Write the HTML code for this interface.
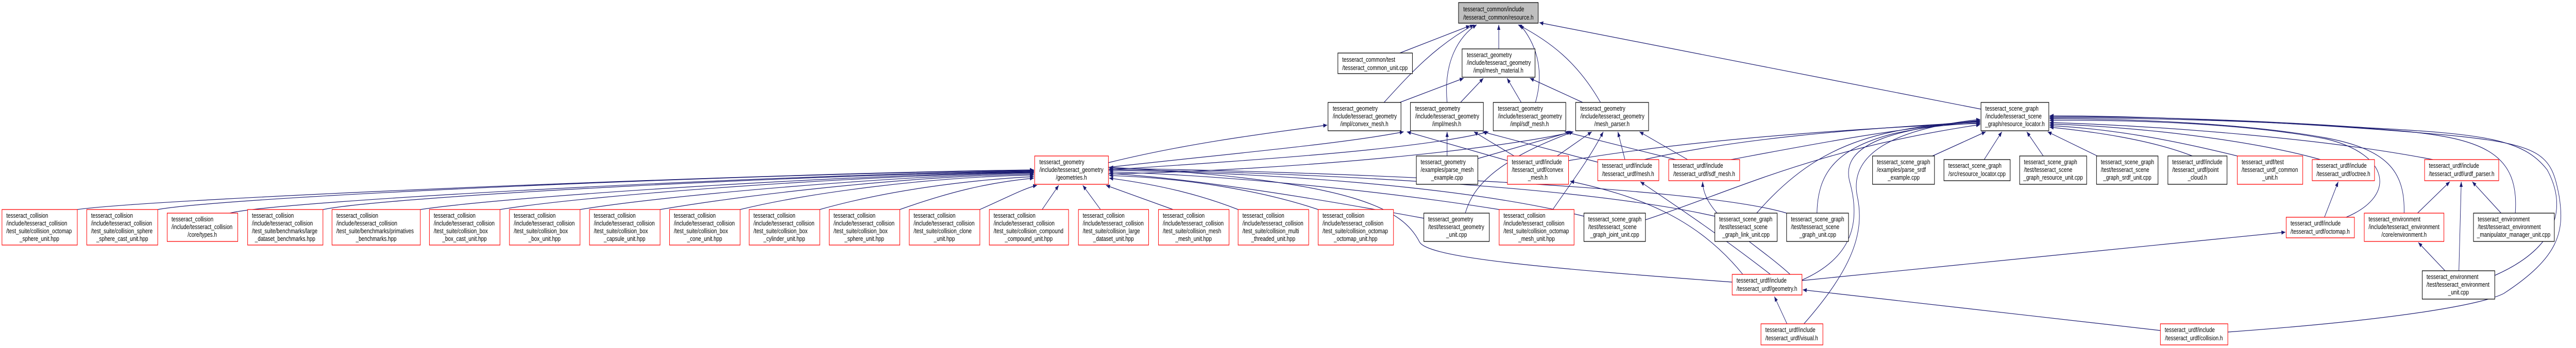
<!DOCTYPE html>
<html><head><meta charset="utf-8"><style>
html,body{margin:0;padding:0;background:#fff;width:100%;height:100%;overflow:hidden;}
svg{display:block;width:100vw;height:100vh;}
text{font-family:"Liberation Sans",Arial,sans-serif;font-size:13px;fill:#000;}
.e{fill:none;stroke:#191970;stroke-width:1.2;marker-end:url(#ah);}
.r{fill:#fff;stroke:#ff0000;stroke-width:1.3;}
.k{fill:#fff;stroke:#000;stroke-width:1.3;}
.g{fill:#bfbfbf;stroke:#000;stroke-width:1.3;}
.m{text-anchor:middle;}
</style></head><body>
<svg viewBox="0 0 6533 676" preserveAspectRatio="none" xmlns="http://www.w3.org/2000/svg" overflow="hidden">
<defs><marker id="ah" markerUnits="userSpaceOnUse" markerWidth="11" markerHeight="8" refX="10" refY="4" orient="auto"><path d="M0,0 L10,4 L0,8 z" fill="#191970"/></marker></defs>
<rect width="6533" height="676" fill="#fff"/>
<!-- edges -->
<path class="e" d="M3550,103 L3728,50"/>
<path class="e" d="M3510,199 C3580,140 3640,90 3738,48"/>
<path class="e" d="M3670,199 C3660,120 3700,70 3745,48"/>
<path class="e" d="M3801,95 L3801,48"/>
<path class="e" d="M3894,199 C3920,130 3890,80 3855,48"/>
<path class="e" d="M4059,199 C4000,120 3930,80 3850,48"/>
<path class="e" d="M5024,212 L3904,44"/>
<path class="e" d="M3550,199 L3712,152"/>
<path class="e" d="M3704,199 L3762,152"/>
<path class="e" d="M3858,199 L3822,152"/>
<path class="e" d="M4014,199 L3880,152"/>
<path class="e" d="M2811,316 C3000,280 3200,260 3366,243"/>
<path class="e" d="M2811,325 C3100,300 3400,280 3560,256"/>
<path class="e" d="M2811,330 C3200,310 3600,290 3775,256"/>
<path class="e" d="M2811,338 C3300,330 3800,290 3990,256"/>
<path class="e" d="M3823,312 L3568,256"/>
<path class="e" d="M3949,303 L4037,256"/>
<path class="e" d="M3670,303 L3670,256"/>
<path class="e" d="M3748,308 L3985,256"/>
<path class="e" d="M4052,315 L3760,256"/>
<path class="e" d="M4121,310 L4103,256"/>
<path class="e" d="M4250,310 L3968,256"/>
<path class="e" d="M4280,310 L4158,256"/>
<path class="e" d="M3840,303 L3738,256"/>
<path class="e" d="M3716,414 C3730,380 3760,320 3990,256"/>
<path class="e" d="M3938,407 C3980,360 4030,310 4066,256"/>
<path class="e" d="M196,407 C400,385 2000,335 2622,330"/>
<path class="e" d="M400,407 C600,380 2000,335 2622,331"/>
<path class="e" d="M583,414 C700,390 2000,338 2622,332"/>
<path class="e" d="M819,407 C1000,380 2100,338 2622,333"/>
<path class="e" d="M1066,407 C1300,380 2200,338 2622,334"/>
<path class="e" d="M1268,407 C1500,378 2200,340 2622,335"/>
<path class="e" d="M1471,407 C1700,378 2300,340 2622,336"/>
<path class="e" d="M1674,407 C1900,378 2300,342 2622,338"/>
<path class="e" d="M1877,407 C2050,375 2350,344 2622,340"/>
<path class="e" d="M2079,407 C2250,370 2450,350 2622,343"/>
<path class="e" d="M2282,407 C2400,375 2500,355 2622,346"/>
<path class="e" d="M2485,407 C2550,385 2600,365 2630,360"/>
<path class="e" d="M2643,407 L2685,360"/>
<path class="e" d="M2791,407 L2746,360"/>
<path class="e" d="M2975,407 L2805,360"/>
<path class="e" d="M3140,407 C3050,380 2950,360 2813,346"/>
<path class="e" d="M3343,407 C3200,370 3000,345 2813,341"/>
<path class="e" d="M3611,424 C3300,380 3000,345 2813,337"/>
<path class="e" d="M3802,407 C3500,370 3100,340 2813,334"/>
<path class="e" d="M4017,420 C3700,360 3200,335 2813,331"/>
<path class="e" d="M4349,420 C4000,360 3300,335 2813,329"/>
<path class="e" d="M4531,414 C4300,360 3300,332 2813,327"/>
<path class="e" d="M4393,548 C3900,520 3620,500 3600,470 C3560,410 3450,350 2813,325"/>
<path class="e" d="M3978,312 C4300,270 4700,250 5022,239"/>
<path class="e" d="M4170,310 C4400,270 4700,250 5022,237"/>
<path class="e" d="M4390,310 C4600,280 4800,250 5022,235"/>
<path class="e" d="M4901,303 L5036,256"/>
<path class="e" d="M5032,310 L5077,256"/>
<path class="e" d="M5182,303 L5140,256"/>
<path class="e" d="M5319,303 L5193,256"/>
<path class="e" d="M5560,303 C5450,270 5300,255 5198,247"/>
<path class="e" d="M5674,303 C5500,270 5350,250 5198,244"/>
<path class="e" d="M5885,310 C5700,270 5400,245 5198,241"/>
<path class="e" d="M6170,310 C5900,270 5500,245 5198,238"/>
<path class="e" d="M5950,422 C6080,380 6060,300 5900,270 C5700,240 5400,232 5198,234"/>
<path class="e" d="M6097,414 C6100,330 6050,290 5900,268 C5700,240 5400,230 5198,231"/>
<path class="e" d="M6379,414 C6390,300 6300,270 6100,255 C5800,235 5400,228 5198,229"/>
<path class="e" d="M6327,535 C6490,480 6510,400 6460,330 C6400,270 6300,260 6000,248 C5700,232 5400,226 5198,227"/>
<path class="e" d="M5650,645 C6100,620 6300,590 6350,570 C6490,500 6505,450 6490,380 C6470,300 6450,280 6200,262 C5800,235 5400,225 5198,225"/>
<path class="e" d="M4608,414 C4610,340 4650,290 4800,260 C4900,243 4980,240 5022,240"/>
<path class="e" d="M4455,414 C4550,330 4650,280 4800,256 C4900,240 5000,236 5022,237"/>
<path class="e" d="M4173,427 C4400,370 4600,290 5022,242"/>
<path class="e" d="M4570,544 C4700,500 4720,430 4690,350 C4670,280 4800,250 5022,234"/>
<path class="e" d="M4575,629 C4700,520 4730,450 4710,380 C4690,300 4800,250 5022,232"/>
<path class="e" d="M4420,533 C4300,420 4150,380 3982,352"/>
<path class="e" d="M4490,533 C4350,450 4250,400 4160,353"/>
<path class="e" d="M4540,533 C4450,470 4320,420 4318,353"/>
<path class="e" d="M4570,545 L5796,451"/>
<path class="e" d="M4532,629 L4500,576"/>
<path class="e" d="M5479,642 L4572,563"/>
<path class="e" d="M5895,422 L5930,353"/>
<path class="e" d="M6131,414 L6213,353"/>
<path class="e" d="M6236,526 L6242,353"/>
<path class="e" d="M6201,526 L6133,471"/>
<path class="e" d="M6343,414 L6270,353"/>
<!-- nodes -->
<rect class="g" x="3699" y="5" width="202" height="40"/>
<text x="3711" y="22">tesseract_common/include</text><text x="3800" y="38" class="m">/tesseract_common/resource.h</text>
<rect class="k" x="3393" y="103" width="189" height="40"/>
<text x="3404" y="120">tesseract_common/test</text><text x="3487" y="136" class="m">/tesseract_common_unit.cpp</text>
<rect class="k" x="3708" y="95" width="185" height="55"/>
<text x="3720" y="111">tesseract_geometry</text><text x="3720" y="126">/include/tesseract_geometry</text><text x="3800" y="141" class="m">/impl/mesh_material.h</text>
<rect class="k" x="3368" y="199" width="185" height="55"/>
<text x="3380" y="215">tesseract_geometry</text><text x="3380" y="230">/include/tesseract_geometry</text><text x="3460" y="245" class="m">/impl/convex_mesh.h</text>
<rect class="k" x="3577" y="199" width="185" height="55"/>
<text x="3589" y="215">tesseract_geometry</text><text x="3589" y="230">/include/tesseract_geometry</text><text x="3669" y="245" class="m">/impl/mesh.h</text>
<rect class="k" x="3787" y="199" width="184" height="55"/>
<text x="3799" y="215">tesseract_geometry</text><text x="3799" y="230">/include/tesseract_geometry</text><text x="3879" y="245" class="m">/impl/sdf_mesh.h</text>
<rect class="k" x="3996" y="199" width="185" height="55"/>
<text x="4008" y="215">tesseract_geometry</text><text x="4008" y="230">/include/tesseract_geometry</text><text x="4088" y="245" class="m">/mesh_parser.h</text>
<rect class="r" x="2624" y="303" width="187" height="55"/>
<text x="2636" y="319">tesseract_geometry</text><text x="2636" y="334">/include/tesseract_geometry</text><text x="2717" y="349" class="m">/geometries.h</text>
<rect class="k" x="3592" y="303" width="156" height="55"/>
<text x="3603" y="319">tesseract_geometry</text><text x="3603" y="334">/examples/parse_mesh</text><text x="3670" y="349" class="m">_example.cpp</text>
<rect class="r" x="3823" y="303" width="155" height="55"/>
<text x="3834" y="319">tesseract_urdf/include</text><text x="3834" y="334">/tesseract_urdf/convex</text><text x="3900" y="349" class="m">_mesh.h</text>
<rect class="r" x="4052" y="310" width="155" height="41"/>
<text x="4063" y="326">tesseract_urdf/include</text><text x="4129" y="342" class="m">/tesseract_urdf/mesh.h</text>
<rect class="r" x="4232" y="310" width="180" height="41"/>
<text x="4243" y="326">tesseract_urdf/include</text><text x="4322" y="342" class="m">/tesseract_urdf/sdf_mesh.h</text>
<!-- bottom row -->
<rect class="r" x="5" y="407" width="191" height="69"/>
<text x="16" y="423">tesseract_collision</text><text x="16" y="438">/include/tesseract_collision</text><text x="16" y="453">/test_suite/collision_octomap</text><text x="100" y="468" class="m">_sphere_unit.hpp</text>
<rect class="r" x="220" y="407" width="180" height="69"/>
<text x="231" y="423">tesseract_collision</text><text x="231" y="438">/include/tesseract_collision</text><text x="231" y="453">/test_suite/collision_sphere</text><text x="310" y="468" class="m">_sphere_cast_unit.hpp</text>
<rect class="r" x="424" y="414" width="179" height="55"/>
<text x="435" y="430">tesseract_collision</text><text x="435" y="445">/include/tesseract_collision</text><text x="513" y="460" class="m">/core/types.h</text>
<rect class="r" x="628" y="407" width="191" height="69"/>
<text x="639" y="423">tesseract_collision</text><text x="639" y="438">/include/tesseract_collision</text><text x="639" y="453">/test_suite/benchmarks/large</text><text x="723" y="468" class="m">_dataset_benchmarks.hpp</text>
<rect class="r" x="842" y="407" width="224" height="69"/>
<text x="853" y="423">tesseract_collision</text><text x="853" y="438">/include/tesseract_collision</text><text x="853" y="453">/test_suite/benchmarks/primatives</text><text x="954" y="468" class="m">_benchmarks.hpp</text>
<rect class="r" x="1089" y="407" width="179" height="69"/>
<text x="1100" y="423">tesseract_collision</text><text x="1100" y="438">/include/tesseract_collision</text><text x="1100" y="453">/test_suite/collision_box</text><text x="1178" y="468" class="m">_box_cast_unit.hpp</text>
<rect class="r" x="1292" y="407" width="179" height="69"/>
<text x="1303" y="423">tesseract_collision</text><text x="1303" y="438">/include/tesseract_collision</text><text x="1303" y="453">/test_suite/collision_box</text><text x="1381" y="468" class="m">_box_unit.hpp</text>
<rect class="r" x="1495" y="407" width="179" height="69"/>
<text x="1506" y="423">tesseract_collision</text><text x="1506" y="438">/include/tesseract_collision</text><text x="1506" y="453">/test_suite/collision_box</text><text x="1584" y="468" class="m">_capsule_unit.hpp</text>
<rect class="r" x="1698" y="407" width="179" height="69"/>
<text x="1709" y="423">tesseract_collision</text><text x="1709" y="438">/include/tesseract_collision</text><text x="1709" y="453">/test_suite/collision_box</text><text x="1787" y="468" class="m">_cone_unit.hpp</text>
<rect class="r" x="1900" y="407" width="179" height="69"/>
<text x="1911" y="423">tesseract_collision</text><text x="1911" y="438">/include/tesseract_collision</text><text x="1911" y="453">/test_suite/collision_box</text><text x="1989" y="468" class="m">_cylinder_unit.hpp</text>
<rect class="r" x="2103" y="407" width="179" height="69"/>
<text x="2114" y="423">tesseract_collision</text><text x="2114" y="438">/include/tesseract_collision</text><text x="2114" y="453">/test_suite/collision_box</text><text x="2192" y="468" class="m">_sphere_unit.hpp</text>
<rect class="r" x="2306" y="407" width="179" height="69"/>
<text x="2317" y="423">tesseract_collision</text><text x="2317" y="438">/include/tesseract_collision</text><text x="2317" y="453">/test_suite/collision_clone</text><text x="2395" y="468" class="m">_unit.hpp</text>
<rect class="r" x="2509" y="407" width="201" height="69"/>
<text x="2520" y="423">tesseract_collision</text><text x="2520" y="438">/include/tesseract_collision</text><text x="2520" y="453">/test_suite/collision_compound</text><text x="2609" y="468" class="m">_compound_unit.hpp</text>
<rect class="r" x="2735" y="407" width="178" height="69"/>
<text x="2746" y="423">tesseract_collision</text><text x="2746" y="438">/include/tesseract_collision</text><text x="2746" y="453">/test_suite/collision_large</text><text x="2824" y="468" class="m">_dataset_unit.hpp</text>
<rect class="r" x="2938" y="407" width="179" height="69"/>
<text x="2949" y="423">tesseract_collision</text><text x="2949" y="438">/include/tesseract_collision</text><text x="2949" y="453">/test_suite/collision_mesh</text><text x="3027" y="468" class="m">_mesh_unit.hpp</text>
<rect class="r" x="3140" y="407" width="179" height="69"/>
<text x="3151" y="423">tesseract_collision</text><text x="3151" y="438">/include/tesseract_collision</text><text x="3151" y="453">/test_suite/collision_multi</text><text x="3229" y="468" class="m">_threaded_unit.hpp</text>
<rect class="r" x="3343" y="407" width="191" height="69"/>
<text x="3354" y="423">tesseract_collision</text><text x="3354" y="438">/include/tesseract_collision</text><text x="3354" y="453">/test_suite/collision_octomap</text><text x="3438" y="468" class="m">_octomap_unit.hpp</text>
<rect class="k" x="3611" y="414" width="166" height="55"/>
<text x="3622" y="430">tesseract_geometry</text><text x="3622" y="445">/test/tesseract_geometry</text><text x="3694" y="460" class="m">_unit.cpp</text>
<rect class="r" x="3802" y="407" width="190" height="69"/>
<text x="3813" y="423">tesseract_collision</text><text x="3813" y="438">/include/tesseract_collision</text><text x="3813" y="453">/test_suite/collision_octomap</text><text x="3897" y="468" class="m">_mesh_unit.hpp</text>
<rect class="k" x="4017" y="414" width="156" height="55"/>
<text x="4028" y="430">tesseract_scene_graph</text><text x="4028" y="445">/test/tesseract_scene</text><text x="4095" y="460" class="m">_graph_joint_unit.cpp</text>
<rect class="k" x="4349" y="414" width="158" height="55"/>
<text x="4360" y="430">tesseract_scene_graph</text><text x="4360" y="445">/test/tesseract_scene</text><text x="4428" y="460" class="m">_graph_link_unit.cpp</text>
<rect class="k" x="4531" y="414" width="157" height="55"/>
<text x="4542" y="430">tesseract_scene_graph</text><text x="4542" y="445">/test/tesseract_scene</text><text x="4610" y="460" class="m">_graph_unit.cpp</text>
<!-- scene graph -->
<rect class="k" x="5024" y="199" width="172" height="55"/>
<text x="5035" y="215">tesseract_scene_graph</text><text x="5035" y="230">/include/tesseract_scene</text><text x="5110" y="245" class="m">_graph/resource_locator.h</text>
<rect class="k" x="4749" y="303" width="157" height="55"/>
<text x="4760" y="319">tesseract_scene_graph</text><text x="4760" y="334">/examples/parse_srdf</text><text x="4828" y="349" class="m">_example.cpp</text>
<rect class="k" x="4930" y="310" width="168" height="41"/>
<text x="4941" y="326">tesseract_scene_graph</text><text x="5014" y="342" class="m">/src/resource_locator.cpp</text>
<rect class="k" x="5122" y="303" width="170" height="55"/>
<text x="5133" y="319">tesseract_scene_graph</text><text x="5133" y="334">/test/tesseract_scene</text><text x="5207" y="349" class="m">_graph_resource_unit.cpp</text>
<rect class="k" x="5317" y="303" width="156" height="55"/>
<text x="5328" y="319">tesseract_scene_graph</text><text x="5328" y="334">/test/tesseract_scene</text><text x="5395" y="349" class="m">_graph_srdf_unit.cpp</text>
<rect class="k" x="5498" y="303" width="150" height="55"/>
<text x="5509" y="319">tesseract_urdf/include</text><text x="5509" y="334">/tesseract_urdf/point</text><text x="5573" y="349" class="m">_cloud.h</text>
<rect class="r" x="5674" y="303" width="166" height="55"/>
<text x="5685" y="319">tesseract_urdf/test</text><text x="5685" y="334">/tesseract_urdf_common</text><text x="5757" y="349" class="m">_unit.h</text>
<rect class="r" x="5864" y="310" width="158" height="41"/>
<text x="5875" y="326">tesseract_urdf/include</text><text x="5943" y="342" class="m">/tesseract_urdf/octree.h</text>
<rect class="r" x="6149" y="310" width="188" height="41"/>
<text x="6160" y="326">tesseract_urdf/include</text><text x="6243" y="342" class="m">/tesseract_urdf/urdf_parser.h</text>
<rect class="r" x="5798" y="422" width="173" height="40"/>
<text x="5809" y="438">tesseract_urdf/include</text><text x="5884" y="454" class="m">/tesseract_urdf/octomap.h</text>
<rect class="r" x="5996" y="414" width="202" height="55"/>
<text x="6007" y="430">tesseract_environment</text><text x="6007" y="445">/include/tesseract_environment</text><text x="6097" y="460" class="m">/core/environment.h</text>
<rect class="k" x="6273" y="414" width="205" height="55"/>
<text x="6284" y="430">tesseract_environment</text><text x="6284" y="445">/test/tesseract_environment</text><text x="6375" y="460" class="m">_manipulator_manager_unit.cpp</text>
<rect class="k" x="6143" y="526" width="184" height="55"/>
<text x="6154" y="542">tesseract_environment</text><text x="6154" y="557">/test/tesseract_environment</text><text x="6235" y="572" class="m">_unit.cpp</text>
<rect class="r" x="4393" y="533" width="177" height="40"/>
<text x="4404" y="549">tesseract_urdf/include</text><text x="4481" y="565" class="m">/tesseract_urdf/geometry.h</text>
<rect class="r" x="4466" y="629" width="157" height="41"/>
<text x="4477" y="645">tesseract_urdf/include</text><text x="4544" y="661" class="m">/tesseract_urdf/visual.h</text>
<rect class="r" x="5479" y="629" width="171" height="41"/>
<text x="5490" y="645">tesseract_urdf/include</text><text x="5564" y="661" class="m">/tesseract_urdf/collision.h</text>
</svg>
</body></html>
